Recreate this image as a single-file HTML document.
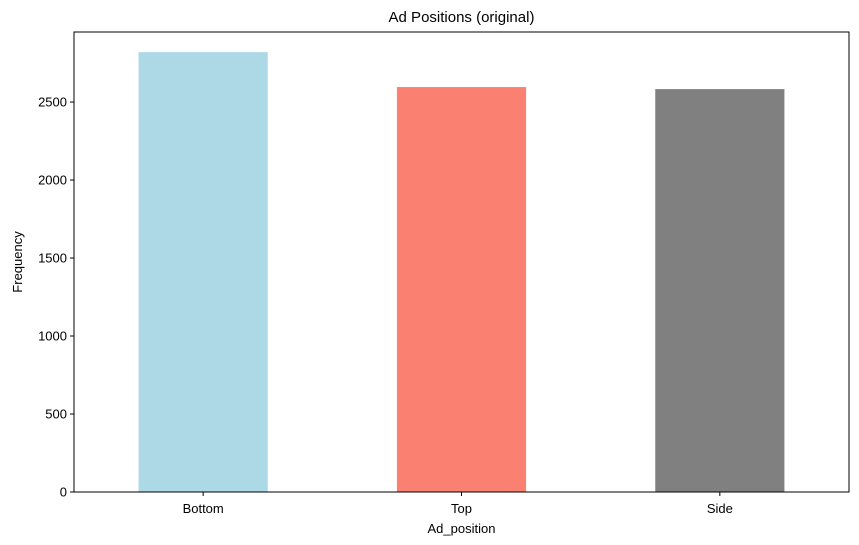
<!DOCTYPE html>
<html><head><meta charset="utf-8"><style>body{margin:0;background:#fff}svg{display:block;font-family:"Liberation Sans","DejaVu Sans",sans-serif}</style></head>
<body>
<svg id="chart" width="859" height="545"></svg>
<script>
const categories = ["Bottom", "Top", "Side"];
const frequencies = [2820, 2596, 2583];
const barColors = ["#add8e6", "#fa8072", "#808080"];
const yTicks = [0, 500, 1000, 1500, 2000, 2500];

const svg = document.getElementById('chart');
const NS = 'http://www.w3.org/2000/svg';
const L = 74, R = 849, T = 32, B = 492;
const yMax = 2949;
const ys = v => B - v / yMax * (B - T);
const band = (R - L) / categories.length;
const xs = i => L + band * (i + 0.5);
function mk(tag, attrs, text) {
  const e = document.createElementNS(NS, tag);
  for (const k in attrs) e.setAttribute(k, attrs[k]);
  if (text !== undefined) e.textContent = text;
  svg.appendChild(e);
  return e;
}
categories.forEach((c, i) => {
  const r = mk('rect', {x: xs(i) - band * 0.25, y: ys(frequencies[i]), width: band * 0.5, height: B - ys(frequencies[i]), fill: barColors[i]});
  
  
  const t = mk('line', {x1: xs(i), x2: xs(i), y1: B, y2: B + 4, stroke: '#000'});
  
  
  const l = mk('text', {x: xs(i), y: B + 21, 'text-anchor': 'middle', 'font-size': 13}, c);
  
  
});
yTicks.forEach(v => {
  const t = mk('line', {x1: L - 4, x2: L, y1: ys(v), y2: ys(v), stroke: '#000'});
  
  
  const l = mk('text', {x: L - 7, y: ys(v) + 4.5, 'text-anchor': 'end', 'font-size': 13}, String(v));
  
  
});
const frame = mk('rect', {x: L, y: T, width: R - L, height: B - T, fill: 'none', stroke: '#000', 'stroke-width': 1});


const title = mk('text', {x: (L + R) / 2, y: 22, 'text-anchor': 'middle', 'font-size': 15}, 'Ad Positions (original)');


const xt = mk('text', {x: (L + R) / 2, y: 533, 'text-anchor': 'middle', 'font-size': 13}, 'Ad_position');


const yt = mk('text', {x: 22, y: (T + B) / 2, 'text-anchor': 'middle', 'font-size': 13, transform: 'rotate(-90 22 ' + (T + B) / 2 + ')'}, 'Frequency');


</script>
</body></html>
